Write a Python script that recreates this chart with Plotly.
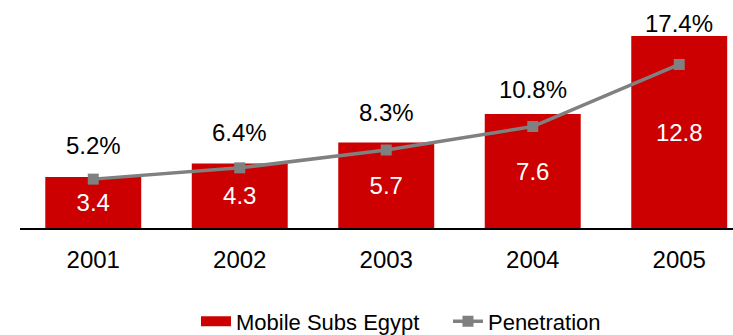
import plotly.graph_objects as go

years = ["2001", "2002", "2003", "2004", "2005"]
subs_millions = [3.4, 4.3, 5.7, 7.6, 12.8]
penetration_pct = [5.2, 6.4, 8.3, 10.8, 17.4]

BAR_RED = "#CC0000"
LINE_GREY = "#808080"
FONT = "Liberation Sans, Arial, sans-serif"

fig = go.Figure()

fig.add_trace(go.Bar(
    x=years,
    y=subs_millions,
    name="Mobile Subs Egypt",
    showlegend=False,
    marker=dict(color=BAR_RED, line=dict(width=0)),
    width=0.655,
    text=[f"{v:.1f}" for v in subs_millions],
    textposition="inside",
    insidetextanchor="middle",
    textfont=dict(color="white", size=24, family=FONT),
    constraintext="none",
    cliponaxis=False,
))

# legend entry for the bars, drawn as a wide block swatch
fig.add_trace(go.Scatter(
    x=[None], y=[None],
    name="Mobile Subs Egypt",
    mode="lines",
    line=dict(color=BAR_RED, width=13),
    showlegend=True,
))

fig.add_trace(go.Scatter(
    x=years,
    y=penetration_pct,
    name="Penetration",
    yaxis="y2",
    mode="lines+markers",
    line=dict(color=LINE_GREY, width=3.5),
    marker=dict(symbol="square", size=11, color=LINE_GREY),
    cliponaxis=False,
))

# penetration percentages written above each bar
label_lift = [16, 16, 15, 9, -3]
for i, (v, p, lift) in enumerate(zip(subs_millions, penetration_pct, label_lift)):
    fig.add_annotation(
        x=i, y=v, xref="x", yref="y",
        text=f"{p}%", showarrow=False,
        yanchor="bottom", yshift=lift,
        font=dict(size=24, color="black", family=FONT),
    )

fig.update_layout(
    width=733, height=335,
    margin=dict(l=20, r=0, t=0, b=107, autoexpand=False),
    paper_bgcolor="white",
    plot_bgcolor="white",
    font=dict(family=FONT, color="black"),
    xaxis=dict(
        type="category",
        range=[-0.5, 4.367],
        showgrid=False,
        showline=True, linecolor="black", linewidth=2,
        ticks="",
        tickfont=dict(size=24, family=FONT, color="black"),
        ticklabelstandoff=9,
        fixedrange=True,
    ),
    yaxis=dict(
        range=[0, 15.2],
        visible=False,
        showgrid=False,
        zeroline=False,
    ),
    yaxis2=dict(
        range=[0, 24.26],
        overlaying="y",
        side="right",
        visible=False,
        showgrid=False,
        zeroline=False,
    ),
    showlegend=True,
    legend=dict(
        orientation="h",
        x=0.2468, xanchor="left",
        y=-0.41, yanchor="middle",
        font=dict(size=22, family=FONT, color="black"),
        itemwidth=30,
        entrywidth=207,
        entrywidthmode="pixels",
        traceorder="normal",
        tracegroupgap=0,
    ),
)

fig.write_html("out.html")
